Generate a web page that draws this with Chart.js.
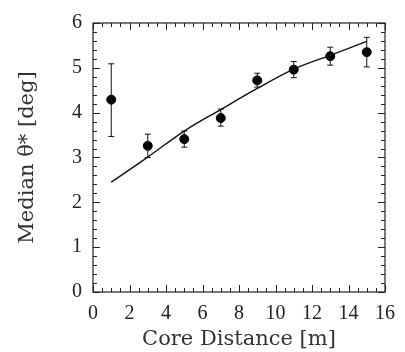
<!DOCTYPE html>
<html>
<head>
<meta charset="utf-8">
<script src="https://cdn.jsdelivr.net/npm/chart.js@4/dist/chart.umd.min.js"></script>
<style>
  html, body { margin: 0; padding: 0; background: #fff; }
  #wrap { width: 405px; height: 352px; }
</style>
</head>
<body>
<div id="wrap"><canvas id="thetaChart"></canvas></div>
<script>
// core distance [m] and median theta* [deg] with error bar ends
const distance = [1, 3, 5, 7, 9, 11, 13, 15];
const medianTheta = [4.29, 3.26, 3.41, 3.88, 4.72, 4.96, 5.26, 5.35];
const errHigh = [5.09, 3.52, 3.59, 4.08, 4.88, 5.14, 5.46, 5.68];
const errLow = [3.47, 3.00, 3.23, 3.70, 4.57, 4.78, 5.06, 5.02];
// fitted curve
const fitDistance = [1, 3, 5, 7, 9, 11, 13, 15];
const fitTheta = [2.45, 3.01, 3.59, 4.07, 4.54, 4.97, 5.28, 5.59];

const xTicks = [0, 2, 4, 6, 8, 10, 12, 14, 16];
const yTicks = [0, 1, 2, 3, 4, 5, 6];

const serif = "'Liberation Serif', 'DejaVu Serif', serif";
const wideSerif = "'DejaVu Serif', 'Liberation Serif', serif";

// error bars drawn through the scales
const errorBars = {
    id: 'errorBars',
    afterDatasetsDraw(chart) {
        const ctx = chart.ctx;
        const xs = chart.scales.x, ys = chart.scales.y;
        ctx.save();
        ctx.strokeStyle = '#111';
        ctx.lineWidth = 1;
        distance.forEach((d, i) => {
            const px = xs.getPixelForValue(d);
            const top = ys.getPixelForValue(errHigh[i]);
            const bot = ys.getPixelForValue(errLow[i]);
            ctx.beginPath();
            ctx.moveTo(px, top); ctx.lineTo(px, bot);
            ctx.moveTo(px - 3, top); ctx.lineTo(px + 3, top);
            ctx.moveTo(px - 3, bot); ctx.lineTo(px + 3, bot);
            ctx.stroke();
        });
        ctx.restore();
    }
};

// frame with inward ticks on all four sides
const frameTicks = {
    id: 'frameTicks',
    afterDraw(chart) {
        const ctx = chart.ctx;
        const a = chart.chartArea;
        const xs = chart.scales.x, ys = chart.scales.y;
        ctx.save();
        ctx.strokeStyle = '#222';
        ctx.lineWidth = 1.2;
        ctx.strokeRect(a.left, a.top, a.right - a.left, a.bottom - a.top);
        ctx.lineWidth = 1;
        ctx.beginPath();
        for (let v = 0; v <= 16.001; v += 0.5) {
            const px = Math.round(xs.getPixelForValue(v)) + 0.5;
            const len = Math.abs(v % 2) < 0.01 ? 7 : 4;
            ctx.moveTo(px, a.bottom); ctx.lineTo(px, a.bottom - len);
            ctx.moveTo(px, a.top); ctx.lineTo(px, a.top + len);
        }
        for (let v = 0; v <= 6.001; v += 0.2) {
            const py = Math.round(ys.getPixelForValue(v)) + 0.5;
            const len = Math.abs(v - Math.round(v)) < 0.01 ? 7 : 4;
            ctx.moveTo(a.left, py); ctx.lineTo(a.left + len, py);
            ctx.moveTo(a.right, py); ctx.lineTo(a.right - len, py);
        }
        ctx.stroke();
        ctx.restore();
    }
};

const ctx = document.getElementById('thetaChart').getContext('2d');
const thetaChart = new Chart(ctx, {
    type: 'scatter',
    data: {
        datasets: [
            {
                label: 'fit',
                data: fitDistance.map((d, i) => ({ x: d, y: fitTheta[i] })),
                showLine: true,
                borderColor: '#111',
                borderWidth: 1.4,
                pointRadius: 0,
                cubicInterpolationMode: 'monotone',
                fill: false
            },
            {
                label: 'median',
                data: distance.map((d, i) => ({ x: d, y: medianTheta[i] })),
                backgroundColor: '#000',
                borderColor: '#000',
                pointRadius: 4.5,
                pointHoverRadius: 4.5
            }
        ]
    },
    options: {
        responsive: true,
        maintainAspectRatio: false,
        animation: false,
        layout: { padding: { top: 16, right: 12, left: 0, bottom: 0 } },
        plugins: {
            legend: { display: false },
            tooltip: { enabled: false }
        },
        scales: {
            x: {
                type: 'linear',
                min: 0,
                max: 16,
                afterBuildTicks: s => { s.ticks = xTicks.map(v => ({ value: v })); },
                grid: { display: false, drawTicks: false },
                border: { display: false },
                ticks: {
                    color: '#222',
                    padding: 10,
                    maxRotation: 0,
                    font: { family: serif, size: 20 }
                },
                title: {
                    display: true,
                    text: 'Core Distance [m]',
                    color: '#333',
                    padding: { top: 1, bottom: 0 },
                    font: { family: wideSerif, size: 21 }
                },
                afterFit: s => { s.height = 60; }
            },
            y: {
                type: 'linear',
                min: 0,
                max: 6,
                afterBuildTicks: s => { s.ticks = yTicks.map(v => ({ value: v })); },
                grid: { display: false, drawTicks: false },
                border: { display: false },
                ticks: {
                    color: '#222',
                    padding: 11,
                    font: { family: serif, size: 20 }
                },
                title: {
                    display: true,
                    text: 'Median θ* [deg]',
                    color: '#333',
                    padding: { top: 15, bottom: 0 },
                    font: { family: wideSerif, size: 21 }
                },
                afterFit: s => { s.width = 93; }
            }
        }
    },
    plugins: [errorBars, frameTicks]
});
</script>
</body>
</html>
